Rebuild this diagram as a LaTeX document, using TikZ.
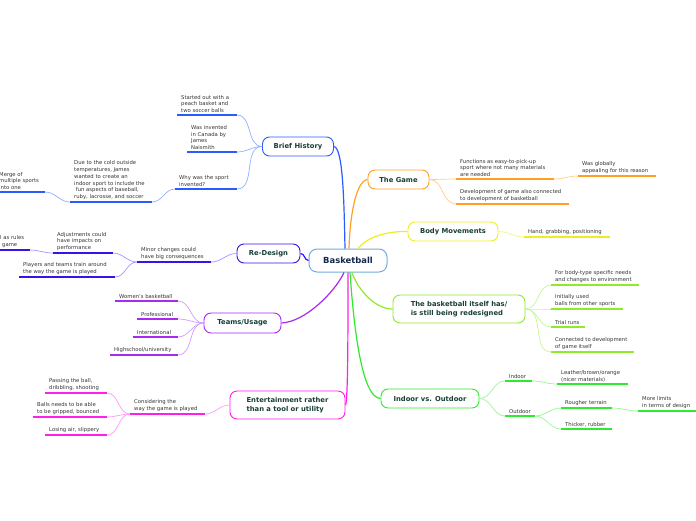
\documentclass[tikz,border=0pt]{standalone}
\usepackage{fontspec}
\setmainfont{DejaVu Sans}
\definecolor{cBlue}{HTML}{2A5BFF}\definecolor{lBlue}{HTML}{8FB0FF}
\definecolor{cOrange}{HTML}{FFA024}\definecolor{lOrange}{HTML}{FFCC8A}
\definecolor{cYellow}{HTML}{EEEE1E}\definecolor{lYellow}{HTML}{F5F58A}
\definecolor{cIndigo}{HTML}{3A12E8}\definecolor{lIndigo}{HTML}{A595FF}
\definecolor{cPurple}{HTML}{A829F0}\definecolor{lPurple}{HTML}{D29BFF}
\definecolor{cLime}{HTML}{8FEA2A}\definecolor{lLime}{HTML}{C4F78E}
\definecolor{cGreen}{HTML}{2EEA2E}\definecolor{lGreen}{HTML}{97F797}
\definecolor{cMagenta}{HTML}{FF1EEA}\definecolor{lMagenta}{HTML}{FF9AF5}
\definecolor{cCenter}{HTML}{6FAEDC}
\definecolor{lab}{HTML}{173F36}
\definecolor{txt}{HTML}{333333}
\definecolor{ctext}{HTML}{13294B}
\newcommand\leafnode[6]{%
 \node[leaf] (#1) at (#3,#4) {#6};%
 \coordinate (#1-e) at (#5,#4);%
 \draw[ul, #2] (#1.south west) -- (#1-e);}
\begin{document}
\begin{tikzpicture}[x=1pt,y=-1pt,
 box/.style={draw, rounded corners=7pt, line width=0.9pt, fill=white, minimum height=19pt, inner sep=2pt, font=\fontsize{6.8}{8.4}\selectfont\bfseries, text=lab, align=left},
 leaf/.style={font=\fontsize{5.3}{6.8}\selectfont, text=txt, align=left, inner xsep=4pt, inner ysep=2pt, anchor=south west},
 ul/.style={line width=1.4pt},
 br/.style={line width=1.2pt},
 sub/.style={line width=0.7pt},
]
\useasboundingbox (0,0) rectangle (696,520);

% center
\node[draw=cCenter, line width=1pt, rounded corners=8pt, fill=white, minimum width=78pt, minimum height=23pt, font=\fontsize{8.4}{10}\selectfont\bfseries, text=ctext] (c) at (348,260.5) {Basketball};

% main boxes
\node[box, draw=cBlue, minimum width=71pt] (bh) at (298,146.5) {Brief History};
\node[box, draw=cOrange, minimum width=61pt] (tg) at (398.5,179.5) {The Game};
\node[box, draw=cYellow, minimum width=90pt] (bm) at (453,231.5) {Body Movements};
\node[box, draw=cIndigo, minimum width=63pt] (rd) at (268.5,253.5) {Re-Design};
\node[box, draw=cPurple, minimum width=77pt, minimum height=20pt] (tu) at (242.5,323) {Teams/Usage};
\node[box, draw=cLime, minimum width=132pt, minimum height=28pt] (bi) at (459,309) {The basketball itself has/\\is still being redesigned};
\node[box, draw=cGreen, minimum width=98pt] (io) at (430,398.5) {Indoor vs. Outdoor};
\node[box, draw=cMagenta, minimum width=115pt, minimum height=28pt] (en) at (287.5,405) {Entertainment rather\\than a tool or utility};

% main connectors
\draw[br,cBlue] (bh.east) .. controls (343,148) and (344,200) .. ([xshift=-3pt]c.north);
\draw[br,cOrange] (tg.west) .. controls (356,181) and (350,215) .. ([xshift=1pt]c.north);
\draw[br,cYellow] (bm.west) .. controls (385,231) and (366,238) .. ([xshift=10pt]c.north);
\draw[br,cIndigo] (rd.east) .. controls (305,253.5) and (304,260) .. (c.west);
\draw[br,cPurple] (tu.east) .. controls (305,322) and (335,292) .. ([xshift=-4pt]c.south);
\draw[br,cLime] (bi.west) .. controls (375,309) and (358,290) .. ([xshift=4pt]c.south);
\draw[br,cGreen] (io.west) .. controls (362,398) and (354,330) .. ([xshift=2pt]c.south);
\draw[br,cMagenta] (en.east) .. controls (348,402) and (348,330) .. (c.south);

% Brief History
\leafnode{b1}{cBlue}{177}{115}{237}{Started out with a\\peach basket and\\two soccer balls}
\leafnode{b2}{cBlue}{187}{152}{237}{Was invented\\in Canada by\\James\\Naismith}
\leafnode{b3}{cBlue}{175}{189}{237}{Why was the sport\\invented?}
\leafnode{b4}{cBlue}{70}{202}{152}{Due to the cold outside\\temperatures, James\\wanted to create an\\indoor sport to include the\\\ fun aspects of baseball,\\ruby, lacrosse, and soccer}
\leafnode{b5}{cBlue}{-5}{192}{45}{Merge of\\multiple sports\\into one}
\foreach \n in {b1,b2,b3} \draw[sub,lBlue] (bh.west) to[out=180,in=0] (\n-e);
\draw[sub,lBlue] (b3.south west) to[out=180,in=0] (b4-e);
\draw[sub,lBlue] (b4.south west) to[out=180,in=0] (b5-e);

% Re-Design
\leafnode{r1}{cIndigo}{137}{262}{211}{Minor changes could\\have big consequences}
\leafnode{r2}{cIndigo}{53}{253}{113}{Adjustments could\\have impacts on\\performance}
\leafnode{r3}{cIndigo}{-4}{250}{30}{l as rules\\\hspace*{2pt}game}
\leafnode{r4}{cIndigo}{19}{277}{115}{Players and teams train around\\the way the game is played}
\draw[sub,lIndigo] (rd.west) to[out=180,in=0] (r1-e);
\draw[sub,lIndigo] (r1.south west) to[out=180,in=0] (r2-e);
\draw[sub,lIndigo] (r1.south west) to[out=180,in=0] (r4-e);
\draw[sub,lIndigo] (r2.south west) to[out=180,in=0] (r3-e);

% Teams/Usage
\leafnode{t1}{cPurple}{115}{301}{178}{Women's basketball}
\leafnode{t2}{cPurple}{137}{319}{178}{Professional}
\leafnode{t3}{cPurple}{133}{337}{178}{International}
\leafnode{t4}{cPurple}{110}{355}{178}{Highschool/university}
\foreach \n in {t1,t2,t3,t4} \draw[sub,lPurple] (tu.west) to[out=180,in=0] (\n-e);

% Entertainment
\leafnode{e1}{cMagenta}{130}{414}{205}{Considering the\\way the game is played}
\leafnode{e2}{cMagenta}{45}{393}{107}{Passing the ball,\\dribbling, shooting}
\leafnode{e3}{cMagenta}{33}{417}{107}{Balls needs to be able\\to be gripped, bounced}
\leafnode{e4}{cMagenta}{45}{435}{107}{Losing air, slippery}
\draw[sub,lMagenta] (en.west) to[out=180,in=0] (e1-e);
\foreach \n in {e2,e3,e4} \draw[sub,lMagenta] (e1.south west) to[out=180,in=0] (\n-e);

% The Game
\leafnode{g1}{cOrange}{456}{179}{554}{Functions as easy-to-pick-up\\sport where not many materials\\are needed}
\leafnode{g2}{cOrange}{578}{176}{656}{Was globally\\appealing for this reason}
\leafnode{g3}{cOrange}{456}{204}{569}{Development of game also connected\\to development of basketball}
\draw[sub,lOrange] (tg.east) to[out=0,in=180] (g1.south west);
\draw[sub,lOrange] (tg.east) to[out=0,in=180] (g3.south west);
\draw[sub,lOrange] (g1-e) to[out=0,in=180] (g2.south west);

% Body Movements
\leafnode{m1}{cYellow}{524}{237}{610}{Hand, grabbing, positioning}
\draw[sub,lYellow] (bm.east) to[out=0,in=180] (m1.south west);

% Basketball itself
\leafnode{i1}{cLime}{551}{285}{639}{For body-type specific needs\\and changes to environment}
\leafnode{i2}{cLime}{551}{309}{623}{Initially used\\balls from other sports}
\leafnode{i3}{cLime}{551}{327}{585}{Trial runs}
\leafnode{i4}{cLime}{551}{352}{634}{Connected to development\\of game itself}
\foreach \n in {i1,i2,i3,i4} \draw[sub,lLime] (bi.east) to[out=0,in=180] (\n.south west);

% Indoor vs Outdoor
\leafnode{o1}{cGreen}{505}{381}{532}{Indoor}
\leafnode{o2}{cGreen}{557}{384}{628}{Leather/brown/orange\\(nicer materials)}
\leafnode{o3}{cGreen}{505}{416}{535}{Outdoor}
\leafnode{o4}{cGreen}{561}{408}{612}{Rougher terrain}
\leafnode{o5}{cGreen}{638}{411}{700}{More limits\\in terms of design}
\leafnode{o6}{cGreen}{561}{429}{612}{Thicker, rubber}
\draw[sub,lGreen] (io.east) to[out=0,in=180] (o1.south west);
\draw[sub,lGreen] (io.east) to[out=0,in=180] (o3.south west);
\draw[sub,lGreen] (o1-e) to[out=0,in=180] (o2.south west);
\draw[sub,lGreen] (o3-e) to[out=0,in=180] (o4.south west);
\draw[sub,lGreen] (o3-e) to[out=0,in=180] (o6.south west);
\draw[sub,lGreen] (o4-e) to[out=0,in=180] (o5.south west);
\end{tikzpicture}
\end{document}
